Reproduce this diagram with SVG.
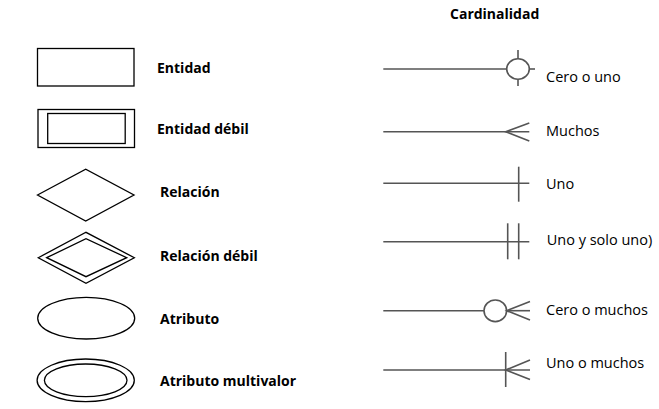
<svg xmlns="http://www.w3.org/2000/svg" width="659" height="409" viewBox="0 0 659 409">
<style>
.shape{fill:none;stroke:#000;stroke-width:1.3}
.card{fill:none;stroke:#555;stroke-width:1.6}
.lbl{font-family:"Open Sans","Noto Sans","Liberation Sans",sans-serif;font-size:14px;font-weight:bold;fill:#000}
.clbl{font-family:"Open Sans","Noto Sans","Liberation Sans",sans-serif;font-size:14.5px;fill:#000}
</style>
<rect width="659" height="409" fill="#fff"/>
<text class="lbl" x="450" y="19">Cardinalidad</text>
<g id="entidad">
<rect class="shape" x="37.5" y="48.5" width="96.5" height="37.5"/>
<text class="lbl" x="157" y="73">Entidad</text>
</g>
<g id="entidad-debil">
<rect class="shape" x="38" y="109.5" width="96.5" height="38"/>
<rect class="shape" x="47.7" y="113.5" width="77.5" height="30"/>
<text class="lbl" x="157" y="134">Entidad débil</text>
</g>
<g id="relacion">
<polygon class="shape" points="37.5,195 85.7,169.3 134,195 85.7,221"/>
<text class="lbl" x="160" y="197">Relación</text>
</g>
<g id="relacion-debil">
<polygon class="shape" points="38.3,257.7 86,232.3 134.3,257.7 86,283.3"/>
<polygon class="shape" points="46.7,257.7 86,238.7 126.7,257.7 86,276.7"/>
<text class="lbl" x="160" y="261">Relación débil</text>
</g>
<g id="atributo">
<ellipse class="shape" cx="86.2" cy="318.2" rx="48.5" ry="20.8"/>
<text class="lbl" x="160" y="323.5">Atributo</text>
</g>
<g id="atributo-multivalor">
<ellipse class="shape" cx="85.7" cy="380.3" rx="48.6" ry="21.3"/>
<ellipse class="shape" cx="85.7" cy="380.3" rx="41.3" ry="16.3"/>
<text class="lbl" x="160" y="385.5">Atributo multivalor</text>
</g>
<g id="connectors">
<g id="cero-o-uno">
<line class="card" x1="383.3" y1="69" x2="506.7" y2="69"/>
<ellipse class="card" cx="518" cy="69" rx="11.3" ry="10.2"/>
<line class="card" x1="518" y1="50" x2="518" y2="58.8"/>
<line class="card" x1="518" y1="79.2" x2="518" y2="86"/>
<line class="card" x1="529.3" y1="69" x2="535" y2="69"/>
</g>
<g id="muchos">
<line class="card" x1="383.3" y1="131.7" x2="529.3" y2="131.7"/>
<polyline class="card" points="529.3,123 505.7,131.7 529.3,141"/>
</g>
<g id="uno">
<line class="card" x1="383.3" y1="183.3" x2="529.3" y2="183.3"/>
<line class="card" x1="518.7" y1="166.7" x2="518.7" y2="201.7"/>
</g>
<g id="uno-y-solo-uno">
<line class="card" x1="383.3" y1="241.7" x2="529.3" y2="241.7"/>
<line class="card" x1="507.7" y1="223.3" x2="507.7" y2="259.3"/>
<line class="card" x1="518.7" y1="223.3" x2="518.7" y2="259.3"/>
</g>
<g id="cero-o-muchos">
<line class="card" x1="383.3" y1="310.7" x2="484" y2="310.7"/>
<ellipse class="card" cx="495.3" cy="310.8" rx="11.3" ry="10.8"/>
<line class="card" x1="506.7" y1="310.7" x2="530" y2="310.7"/>
<polyline class="card" points="530,301.5 506.7,310.7 530,320"/>
</g>
<g id="uno-o-muchos">
<line class="card" x1="383.3" y1="370" x2="530" y2="370"/>
<line class="card" x1="505.7" y1="352" x2="505.7" y2="387"/>
<polyline class="card" points="530,360 505.7,370 530,379.5"/>
</g>
</g>
<g id="cardinality-labels">
<text class="clbl" x="546" y="81.7">Cero o uno</text>
<text class="clbl" x="546" y="136">Muchos</text>
<text class="clbl" x="546" y="189.3">Uno</text>
<text class="clbl" x="546.7" y="245">Uno y solo uno)</text>
<text class="clbl" x="546" y="315">Cero o muchos</text>
<text class="clbl" x="546" y="368.3">Uno o muchos</text>
</g>
</svg>
